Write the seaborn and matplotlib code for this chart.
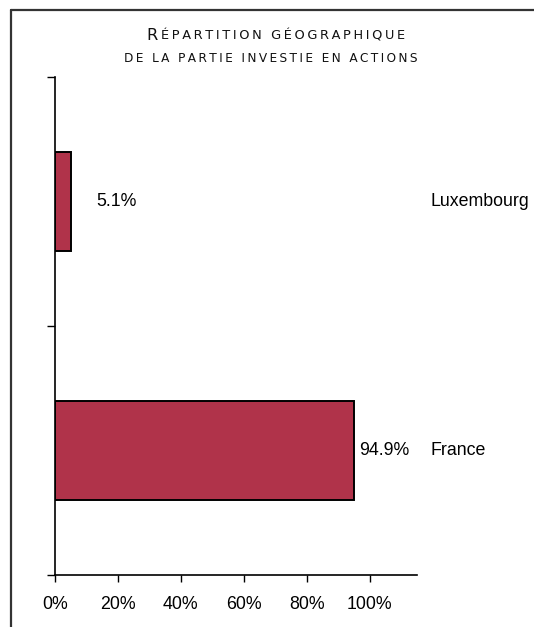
import matplotlib
matplotlib.use("Agg")
import matplotlib.pyplot as plt
import seaborn as sns
import pandas as pd
from matplotlib.lines import Line2D
from matplotlib.offsetbox import TextArea, HPacker, AnchoredOffsetbox

# Geographic split of the equity portion
countries = ["Luxembourg", "France"]
shares = [5.1, 94.9]
value_labels = ["5.1%", "94.9%"]
tick_values = [0, 20, 40, 60, 80, 100]
tick_labels = ["0%", "20%", "40%", "60%", "80%", "100%"]

sns.set_theme(style="ticks")
plt.rcParams["font.family"] = ["Liberation Sans", "DejaVu Sans"]

df = pd.DataFrame({"pays": countries, "part": shares})

fig = plt.figure(figsize=(5.34, 6.27), dpi=100)
ax = fig.add_axes([55 / 534, 1 - 575 / 627, 362 / 534, (575 - 77) / 627])

sns.barplot(data=df, x="part", y="pays", order=countries, orient="h",
            width=0.4, color="#B0334A", saturation=1,
            edgecolor="black", linewidth=1.4, ax=ax)

FS = 12.8
ax.set_xlim(0, 115)
ax.set_ylim(1.5, -0.5)
ax.set_xticks(tick_values)
ax.set_xticklabels(tick_labels, fontsize=FS, color="black")
ax.set_yticks([-0.5, 0.5, 1.5])
ax.set_yticklabels([])
ax.set_xlabel("")
ax.set_ylabel("")
ax.tick_params(axis="x", direction="out", length=5, width=1, color="black", pad=10)
ax.tick_params(axis="y", direction="out", length=6, width=1, color="black")
sns.despine(ax=ax)
for side in ("left", "bottom"):
    ax.spines[side].set_color("black")
    ax.spines[side].set_linewidth(1.2)

# value labels next to each bar
offsets = [25, 5]
for i, (v, lab, off) in enumerate(zip(shares, value_labels, offsets)):
    ax.annotate(lab, xy=(v, i), xytext=(off, 0), textcoords="offset pixels",
                ha="left", va="center", fontsize=FS, color="black")

# country names on the right
tr = ax.get_yaxis_transform()
for i, name in enumerate(countries):
    ax.text(1.036, i, name, transform=tr, ha="left", va="center",
            fontsize=FS, color="black")


# small-caps title with wide letter spacing
def tracked(s):
    return "\u2009".join(s)


def small_caps_line(first, rest, big=11.6, small=8.7):
    style = dict(family="DejaVu Sans", color="#111111")
    parts = []
    if first:
        parts.append(TextArea(first + "\u2009", textprops=dict(fontsize=big, **style)))
    parts.append(TextArea(tracked(rest), textprops=dict(fontsize=small, **style)))
    return HPacker(children=parts, align="baseline", pad=0, sep=0)


line1 = small_caps_line("R", "ÉPARTITION GÉOGRAPHIQUE", small=9.3)
line2 = small_caps_line("", "DE LA PARTIE INVESTIE EN ACTIONS")
for box, x, y in ((line1, 276, 35), (line2, 271, 58)):
    anch = AnchoredOffsetbox(loc="center", child=box, frameon=False,
                             bbox_to_anchor=(x / 534, 1 - y / 627),
                             bbox_transform=fig.transFigure, pad=0, borderpad=0)
    fig.add_artist(anch)

# outer frame (left and top edges)
fig.add_artist(Line2D([11 / 534, 11 / 534], [0, 1 - 9.5 / 627],
                      transform=fig.transFigure, color="#333333", lw=1.6))
fig.add_artist(Line2D([11 / 534, 1], [1 - 9.5 / 627, 1 - 9.5 / 627],
                      transform=fig.transFigure, color="#333333", lw=1.6))

fig.savefig("out.png", dpi=100, facecolor="white")
